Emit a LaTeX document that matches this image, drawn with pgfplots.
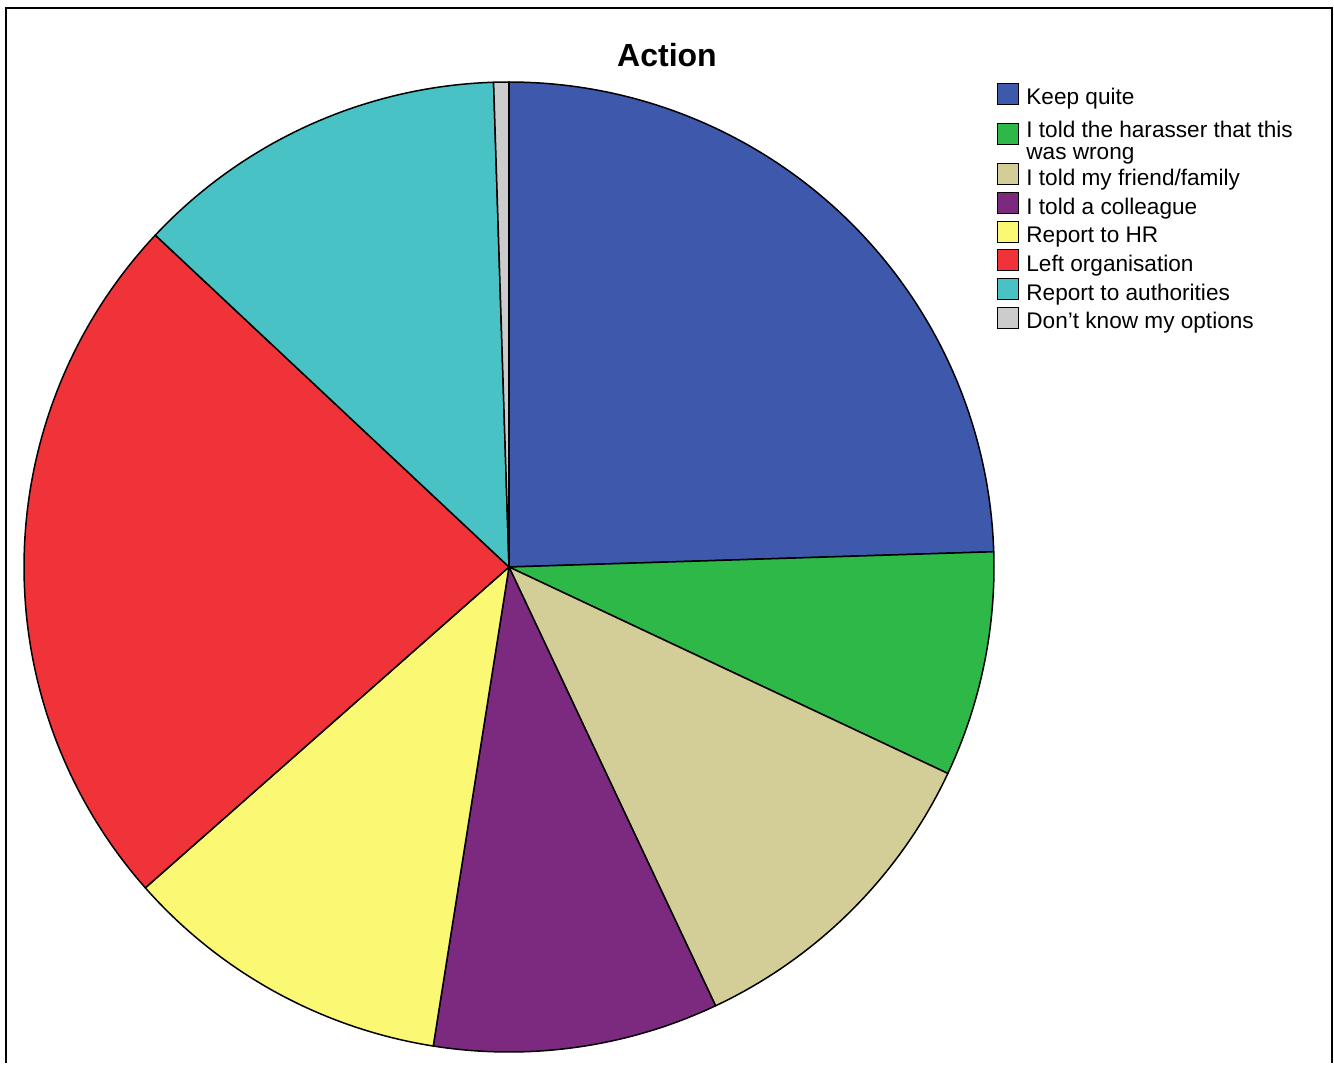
\documentclass[border=0pt]{standalone}
\usepackage{pgfplots}
\pgfplotsset{compat=1.18}
\usepackage{fontspec}
\setmainfont{Liberation Sans}
\definecolor{cKeep}{HTML}{3E58AC}
\definecolor{cWrong}{HTML}{2EB848}
\definecolor{cFriend}{HTML}{D3CE97}
\definecolor{cColl}{HTML}{7C2A80}
\definecolor{cHR}{HTML}{FBF873}
\definecolor{cLeft}{HTML}{EF3338}
\definecolor{cAuth}{HTML}{48C2C5}
\definecolor{cDK}{HTML}{CCCCCC}
\pgfplotsset{pielegend/.style={legend image code/.code={%
  \filldraw[##1, draw=black, line width=0.5pt] (0pt,-3.25pt) rectangle (10.5pt,7.25pt);}}}
% counts per category (total 200)
\def\N{200}
\pgfmathsetmacro\aA{90}
\pgfmathsetmacro\aB{\aA-49/\N*360}% Keep quite
\pgfmathsetmacro\aC{\aB-15/\N*360}% told harasser
\pgfmathsetmacro\aD{\aC-22/\N*360}% friend/family
\pgfmathsetmacro\aE{\aD-19/\N*360}% colleague
\pgfmathsetmacro\aF{\aE-22/\N*360}% HR
\pgfmathsetmacro\aG{\aF-47/\N*360}% left organisation
\pgfmathsetmacro\aH{\aG-25/\N*360}% authorities
\pgfmathsetmacro\aI{\aH-1/\N*360}% don't know
\newcommand\pieslice[3]{\filldraw[fill=#3, draw=black, line width=0.75pt, line join=round]
  (axis cs:509,496) -- plot[domain=#1:#2, samples=90, variable=\t] ({509+485*cos(\t)},{496+485*sin(\t)}) -- cycle;}
\begin{document}
\begin{tikzpicture}
\begin{axis}[
  width=667pt, height=531.5pt, scale only axis,
  xmin=0, xmax=1334, ymin=0, ymax=1063,
  hide axis, clip=false,
  title={Action},
  every axis title shift=0pt,
  title style={font=\fontsize{16}{18}\selectfont\bfseries, at={(0.5,0.937)}, anchor=base},
  legend cell align=left,
  legend style={at={(axis cs:997,980.5)}, anchor=north west, draw=none, fill=none,
    inner sep=0pt, row sep=0.35pt, column sep=3.5pt,
    nodes={inner sep=0pt, text height=10pt, text depth=3pt,
      font=\fontsize{11.3}{11}\selectfont}},
]
\addlegendimage{pielegend, fill=cKeep}\addlegendentry{Keep quite}
\addlegendimage{pielegend, fill=cWrong}\addlegendentry[anchor=base west, text height=13.15pt, text depth=12.4pt]{\vtop{\hbox{I told the harasser that this}\hbox{was wrong}}}
\addlegendimage{pielegend, fill=cFriend}\addlegendentry{I told my friend/family}
\addlegendimage{pielegend, fill=cColl}\addlegendentry{I told a colleague}
\addlegendimage{pielegend, fill=cHR}\addlegendentry{Report to HR}
\addlegendimage{pielegend, fill=cLeft}\addlegendentry{Left organisation}
\addlegendimage{pielegend, fill=cAuth}\addlegendentry{Report to authorities}
\addlegendimage{pielegend, fill=cDK}\addlegendentry{Don't know my options}
\pieslice{\aA}{\aB}{cKeep}
\pieslice{\aB}{\aC}{cWrong}
\pieslice{\aC}{\aD}{cFriend}
\pieslice{\aD}{\aE}{cColl}
\pieslice{\aE}{\aF}{cHR}
\pieslice{\aF}{\aG}{cLeft}
\pieslice{\aG}{\aH}{cAuth}
\pieslice{\aH}{\aI}{cDK}
\path (axis cs:0,0) rectangle (axis cs:1334,1063);
\draw[line width=1.25pt] (axis cs:6,0) -- (axis cs:6,1055) -- (axis cs:1332,1055) -- (axis cs:1332,0);
\end{axis}
\end{tikzpicture}
\end{document}
